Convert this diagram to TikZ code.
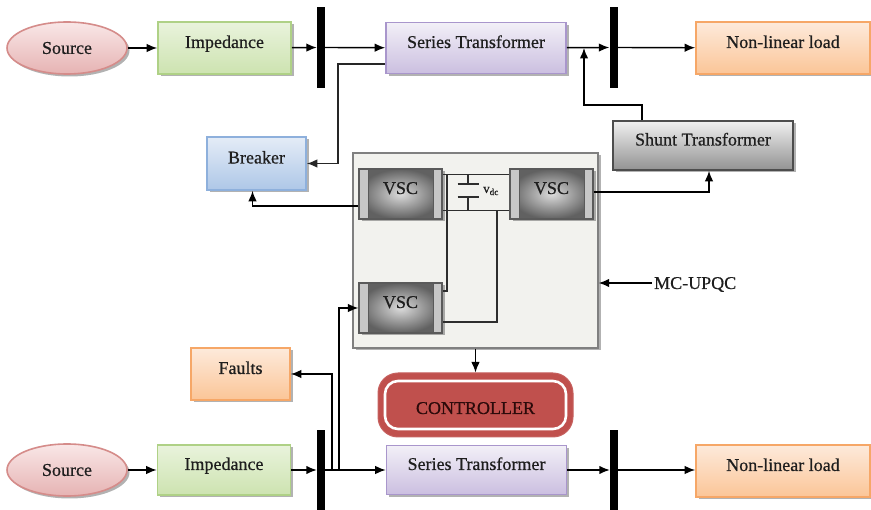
\documentclass[tikz,border=0pt]{standalone}
\usepackage{fontspec}
\setmainfont{Liberation Serif}[FakeBold=0.6]
\usetikzlibrary{arrows.meta,shapes.geometric,shadows,calc}
\definecolor{impT}{HTML}{E9F3DC}
\definecolor{impB}{HTML}{CDE3B0}
\definecolor{impD}{HTML}{AFD186}
\definecolor{stT}{HTML}{F2EFF7}
\definecolor{stB}{HTML}{CBBFE0}
\definecolor{stD}{HTML}{A996CC}
\definecolor{nlT}{HTML}{FDEADB}
\definecolor{nlB}{HTML}{FBC597}
\definecolor{nlD}{HTML}{F6A767}
\definecolor{brkT}{HTML}{E4ECF7}
\definecolor{brkB}{HTML}{AEC7E7}
\definecolor{brkD}{HTML}{8EB0DC}
\definecolor{shT}{HTML}{F0F0F0}
\definecolor{shB}{HTML}{929292}
\definecolor{shD}{HTML}{4D4D4D}
\definecolor{srcT}{HTML}{F9E7E7}
\definecolor{srcB}{HTML}{E6B3B3}
\definecolor{srcD}{HTML}{D58C8A}
\definecolor{mcF}{HTML}{F2F2EE}
\definecolor{mcD}{HTML}{808080}
\definecolor{ctrlF}{HTML}{C0504D}
\definecolor{ctrlT}{HTML}{2B0A0A}
\definecolor{vscD}{HTML}{5A5A5A}
\definecolor{wireC}{HTML}{2E2E2E}
\definecolor{txt}{HTML}{1E1E1E}
\begin{document}
\begin{tikzpicture}[x=1pt,y=-1pt,
  font=\fontsize{18}{20}\selectfont, text=txt,
  arr/.style={-{Latex[length=10.5pt,width=8.5pt]}, line width=1.4pt},
  wire/.style={line width=1.1pt, draw=wireC},
  shd/.style={drop shadow={shadow xshift=2.5pt,shadow yshift=-2.5pt,opacity=0.3,fill=black}},
  box/.style={rectangle, inner sep=0pt, line width=1.6pt, text height=12pt, text depth=12pt, shd},
  impbox/.style={box, draw=impD, top color=impT, bottom color=impB, minimum width=133pt, minimum height=52pt},
  stbox/.style={box, draw=stD, top color=stT, bottom color=stB, minimum width=180pt, minimum height=51pt},
  nlbox/.style={box, draw=nlD, top color=nlT, bottom color=nlB, minimum width=174pt, minimum height=52pt},
  brkbox/.style={box, draw=brkD, top color=brkT, bottom color=brkB, minimum width=99pt, minimum height=53pt},
  shbox/.style={box, draw=shD, top color=shT, bottom color=shB, minimum width=180pt, minimum height=49pt},
  srcell/.style={ellipse, inner sep=0pt, line width=1.6pt, draw=srcD, top color=srcT, bottom color=srcB, minimum width=120pt, minimum height=52pt, shd},
  bus/.style={rectangle, fill=black, inner sep=0pt, minimum width=8pt, minimum height=81pt},
  vsc/.style={rectangle, draw=vscD, line width=1.2pt, minimum width=83pt, minimum height=50pt, inner sep=0pt,
    inner color=black!14, outer color=black!62, text height=12pt, text depth=12pt, shd,
    path picture={
      \draw[draw=vscD, fill=black!22, line width=0.8pt] (path picture bounding box.south west) rectangle ([xshift=9pt]path picture bounding box.north west);
      \draw[draw=vscD, fill=black!22, line width=0.8pt] ([xshift=-9pt]path picture bounding box.south east) rectangle (path picture bounding box.north east);
    }},
  ctrlbox/.style={rectangle, rounded corners=20pt, fill=ctrlF, draw=ctrlF!90!white, line width=1pt, minimum width=195pt, minimum height=64pt, inner sep=0pt,
    text=ctrlT, text height=18pt, text depth=0pt,
    path picture={
      \draw[white, line width=2.6pt, rounded corners=13pt] ([xshift=7pt,yshift=8pt]path picture bounding box.south west) rectangle ([xshift=-7pt,yshift=-8pt]path picture bounding box.north east);
    }}
]
\useasboundingbox (0,0) rectangle (871,510);

% ---------- top row ----------
\node[srcell] (src1) at (67,48) {Source};
\node[impbox] (imp1) at (224.5,48) {Impedance};
\node[bus] (b1) at (321,47.5) {};
\node[stbox] (st1) at (476,48) {Series Transformer};
\node[bus] (b2) at (613.5,47.5) {};
\node[nlbox] (nl1) at (783,48) {Non-linear load};

\draw[arr] (src1) -- (imp1);
\draw[arr] (imp1) -- (b1);
\draw[arr] (b1) -- (st1);
\draw[arr] (st1) -- (b2);
\draw[arr] (b2) -- (nl1);

% ---------- middle ----------
\node[brkbox] (brk) at (256.5,163.5) {Breaker};
\node[shbox] (shunt) at (703,145.5) {Shunt Transformer};
\node[rectangle, draw=mcD, fill=mcF, line width=1.4pt, minimum width=245pt, minimum height=195pt, inner sep=0pt, shd] (mc) at (475.5,250.5) {};
\node[vsc] (vsc1) at (400.5,194) {VSC};
\node[vsc] (vsc2) at (551.5,194) {VSC};
\node[vsc] (vsc3) at (400.5,308) {VSC};
\node[ctrlbox] (ctrl) at (475.5,405) {CONTROLLER};
\node[anchor=west, inner sep=2pt, text height=12pt, text depth=0pt] (lbl) at (652,283) {MC-UPQC};

% DC link
\coordinate (wt1) at ([yshift=-6pt]vsc1.north east);
\coordinate (wb1) at ([yshift=9pt]vsc1.south east);
\draw[wire] (wt1) -- (wt1 -| vsc2.west);
\draw[wire] (wb1) -- (wb1 -| vsc2.west);
\coordinate (capT) at (468,184);
\coordinate (capB) at (468,197);
\draw[wire] (wt1 -| capT) -- (capT);
\draw[wire] (wb1 -| capB) -- (capB);
\draw[wire] ([xshift=-10.5pt]capT) -- ([xshift=10.5pt]capT);
\draw[wire] ([xshift=-10.5pt]capB) -- ([xshift=10.5pt]capB);
\node[inner sep=0pt] (vdc) at (491,191) {\fontsize{13}{13}\selectfont v\textsubscript{dc}};
\coordinate (d1) at (447,0);
\coordinate (d2) at (497,0);
\draw[wire] (wt1 -| d1) |- ([yshift=17pt]vsc3.east);
\draw[wire] (wb1 -| d2) |- ([yshift=-14pt]vsc3.east);

% connections
\draw[arr, draw=black!85] ([yshift=-16pt]st1.west) -| (338,163.5) -- (brk.east);
\draw[arr] ([yshift=-12pt]vsc1.west) -| ([xshift=-4pt]brk.south);
\draw[arr] ([yshift=2pt]vsc2.east) -| ([xshift=6pt]shunt.south);
\coordinate (j1) at (584,48);
\draw[arr] ([xshift=-61pt]shunt.north) |- (584,105) -- (j1);
\draw[arr] (lbl.west) -- (lbl.west -| mc.east);
\draw[arr] (mc.south) -- (ctrl.north);

% ---------- bottom row ----------
\node[srcell] (src2) at (67,470) {Source};
\node[impbox, minimum height=50pt] (imp2) at (224,470) {Impedance};
\node[bus, minimum height=82pt] (b3) at (321,471) {};
\node[stbox, minimum height=49pt] (st2) at (476.5,470) {Series Transformer};
\node[bus, minimum height=82pt] (b4) at (614,471) {};
\node[nlbox] (nl2) at (783,471) {Non-linear load};
\node[nlbox, minimum width=99pt] (faults) at (240.5,374) {Faults};

\draw[arr] (src2) -- (imp2);
\draw[arr] (imp2) -- (b3.west |- imp2);
\draw[arr] (b3.east |- st2) -- (st2);
\draw[arr] (st2) -- (b4.west |- st2);
\draw[arr] (b4.east |- st2) -- (nl2.west |- st2);

\coordinate (t3) at (332,470);
\coordinate (t4) at (339,470);
\draw[arr] (t3) |- (faults.east);
\draw[arr] (t4) |- (vsc3.west);
\end{tikzpicture}
\end{document}
